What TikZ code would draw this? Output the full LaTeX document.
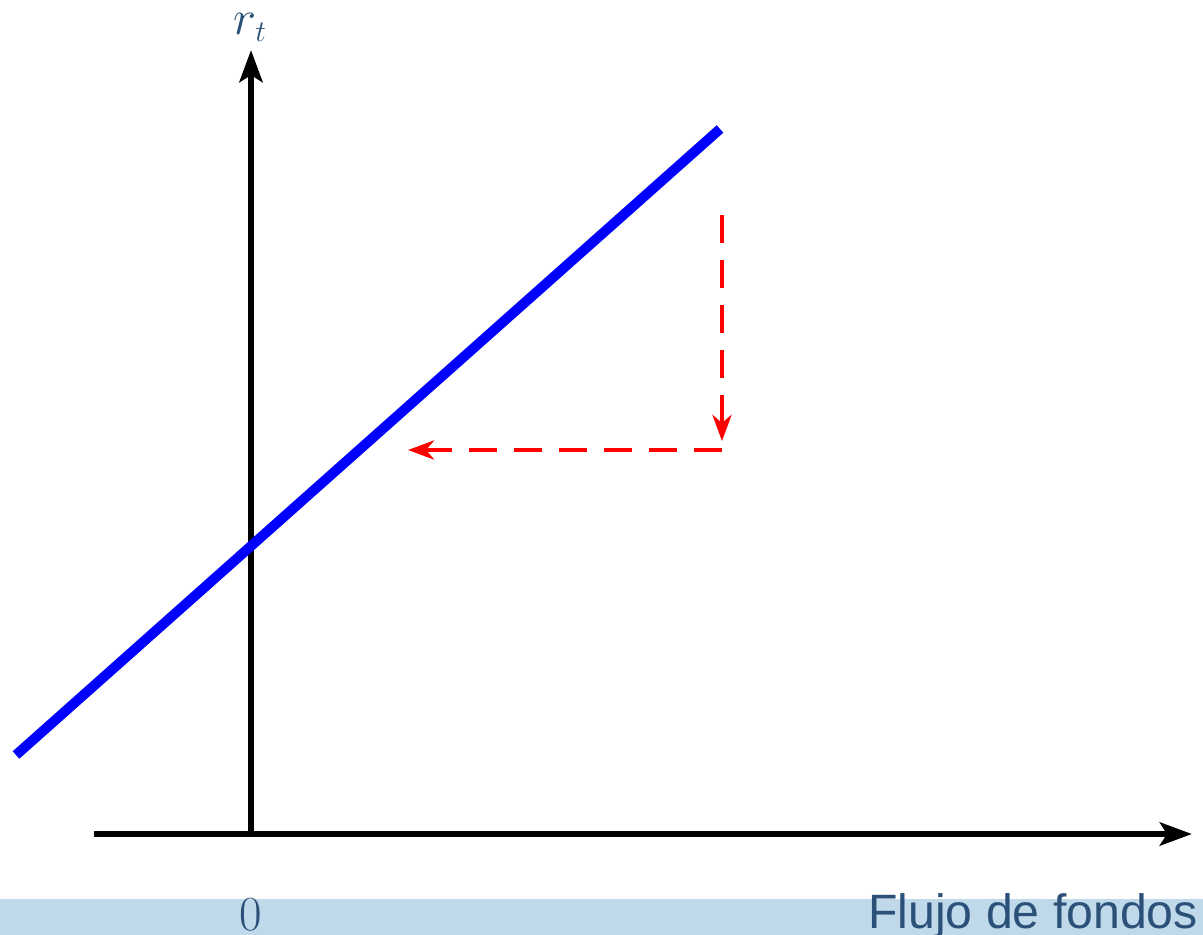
\RequirePackage{fix-cm}
\documentclass[tikz,border=0pt]{standalone}
\usepackage{fontspec}
\newfontfamily\labelsans{Liberation Sans}
\usetikzlibrary{arrows.meta}
\DeclareMathSizes{50}{49}{30}{25}
\definecolor{bandblue}{HTML}{BFD8EA}
\definecolor{textblue}{HTML}{2B5179}
\definecolor{lineblue}{HTML}{0000FF}
\definecolor{dashred}{HTML}{FF0000}
\tikzset{
  axisline/.style={line width=6.5pt, black, -{Stealth[length=32pt,width=23pt,inset=7pt]}},
  curveline/.style={line width=10pt, lineblue},
  shiftarrow/.style={line width=4.5pt, dashred, dash pattern=on 28pt off 17pt, -{Stealth[length=26pt,width=19pt,inset=8pt]}},
  mathlabel/.style={text=textblue, font=\fontsize{50}{60}\selectfont, inner sep=0pt},
  wordlabel/.style={text=textblue, font=\labelsans\fontsize{48.2}{58}\selectfont, inner sep=0pt}
}
\begin{document}
\begin{tikzpicture}[x=1pt,y=-1pt]
\useasboundingbox (0,0) rectangle (1203,935);
\fill[bandblue] (0,899) rectangle (1203,935);
% coordinates
\coordinate (origin) at (251,834);
\coordinate (ytop) at (251,50);
\coordinate (ybot) at (251,831);
\coordinate (xleft) at (94,834);
\coordinate (xright) at (1192,834);
\coordinate (lstart) at (16,755);
\coordinate (lend) at (720,129);
\coordinate (vtop) at (722,215);
\coordinate (corner) at (722,450);
\coordinate (vtip) at (722,441);
\coordinate (htip) at (408,450);
% axes
\draw[axisline] (ybot) -- (ytop);
\draw[axisline] (xleft) -- (xright);
% blue line
\draw[curveline] (lstart) -- (lend);
% red dashed arrows
\draw[shiftarrow] (vtop) -- (vtip);
\draw[shiftarrow] (corner) -- (htip);
% labels
\node[mathlabel, anchor=base] (rlab) at (250,34) {$r_t$};
\node[mathlabel, anchor=base] (zlab) at (251,930) {$0$};
\node[wordlabel, anchor=base east] (flab) at (1198,928) {Flujo de fondos};
\end{tikzpicture}
\end{document}
